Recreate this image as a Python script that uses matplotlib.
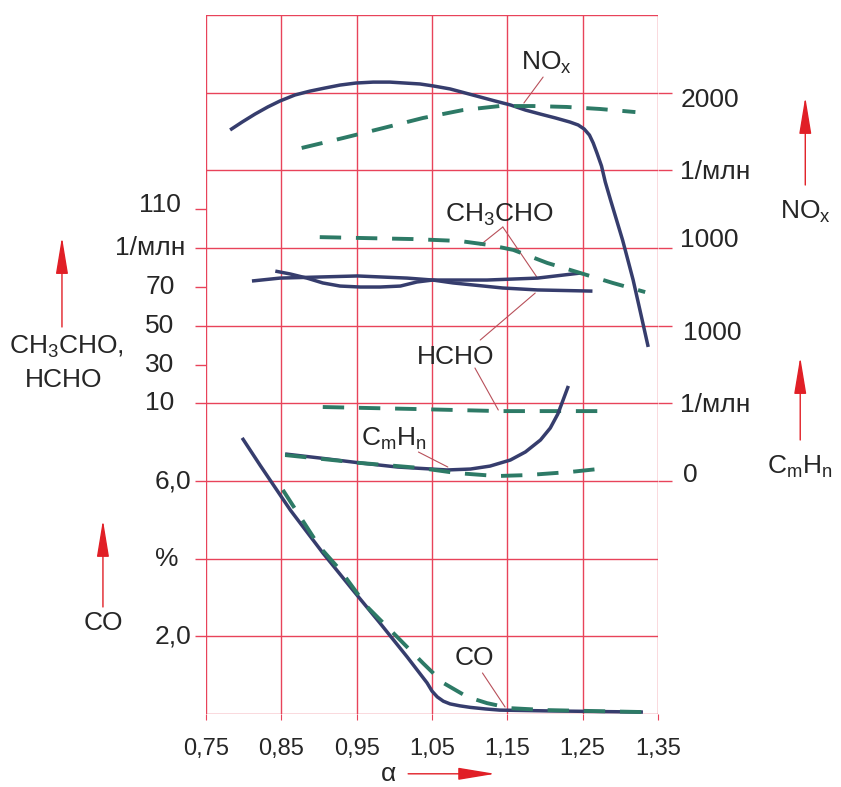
import matplotlib
matplotlib.use('Agg')
import matplotlib.pyplot as plt

plt.rcParams['font.family'] = ['Liberation Sans', 'DejaVu Sans']
plt.rcParams['mathtext.fontset'] = 'custom'
plt.rcParams['mathtext.rm'] = 'Liberation Sans'
plt.rcParams['mathtext.it'] = 'Liberation Sans:italic'
plt.rcParams['mathtext.default'] = 'regular'

GRID = '#e8435a'
SOLID = '#363d6d'
DASH = '#2d7a66'
ARROW = '#e11f26'
LEADER = '#b8505a'
TXT = '#262626'

# коэффициент избытка воздуха
alpha_ticks = [0.75, 0.85, 0.95, 1.05, 1.15, 1.25, 1.35]
alpha_labels = ['0,75', '0,85', '0,95', '1,05', '1,15', '1,25', '1,35']

# NOx, 1/млн
nox_a = [0.782, 0.798, 0.815, 0.832, 0.848, 0.868, 0.888, 0.908, 0.928, 0.949,
         0.972, 0.994, 1.014, 1.034, 1.052, 1.074, 1.094, 1.114, 1.134, 1.154,
         1.174, 1.194, 1.214, 1.233, 1.244, 1.252, 1.259, 1.264, 1.269, 1.275,
         1.280, 1.287, 1.295, 1.303, 1.310, 1.317, 1.326, 1.337]
nox_solid = [1760, 1811, 1862, 1908, 1946, 1985, 2010, 2030, 2049, 2062,
             2068, 2068, 2062, 2056, 2043, 2024, 1998, 1972, 1946, 1921,
             1888, 1862, 1837, 1811, 1792, 1766, 1727, 1676, 1611, 1528,
             1425, 1309, 1180, 1051, 923, 794, 601, 363]
nox_da = [0.877, 0.932, 0.985, 1.038, 1.091, 1.140, 1.184, 1.229, 1.273, 1.320]
nox_dash = [1644, 1708, 1772, 1837, 1888, 1914, 1914, 1908, 1895, 1875]

# CH3CHO, HCHO, 1/млн
ch3cho_a = [0.842, 0.862, 0.884, 0.905, 0.928, 0.955, 0.981, 1.008, 1.030, 1.051,
            1.123, 1.190, 1.247]
ch3cho_solid = [78.1, 76.6, 74.5, 72.0, 70.4, 69.9, 69.9, 70.4, 72.5, 73.5,
                73.5, 74.5, 77.1]
ch3cho_da = [0.901, 1.025, 1.087, 1.127, 1.158, 1.203, 1.247, 1.290, 1.333]
ch3cho_dash = [95.6, 94.6, 93.6, 91.5, 89.0, 82.3, 77.1, 72.0, 67.3]

hcho_a = [0.811, 0.848, 0.951, 1.017, 1.051, 1.078, 1.144, 1.190, 1.263]
hcho_solid = [73.0, 74.5, 75.6, 74.5, 73.5, 72.0, 69.4, 68.4, 67.8]
hcho_da = [0.905, 1.025, 1.140, 1.284]
hcho_dash = [8.1, 7.1, 6.0, 6.0]

# CmHn, 1/млн
cmhn_a = [0.855, 0.901, 0.955, 1.004, 1.070, 1.101, 1.127, 1.154, 1.174, 1.194,
          1.207, 1.217, 1.224, 1.231]
cmhn_solid = [174, 148, 116, 90, 71, 77, 96, 135, 187, 264, 341, 431, 521, 612]
cmhn_da = [0.855, 0.955, 1.034, 1.083, 1.136, 1.176, 1.233, 1.284]
cmhn_dash = [167, 116, 84, 51, 32, 38, 58, 84]

# CO, %
co_a = [0.798, 0.822, 0.862, 0.905, 0.945, 0.981, 1.017, 1.0435, 1.050, 1.057,
        1.065, 1.074, 1.087, 1.101, 1.121, 1.140, 1.203, 1.330]
co_solid = [7.11, 6.40, 5.25, 4.15, 3.19, 2.34, 1.47, 0.80, 0.59, 0.44,
            0.33, 0.26, 0.21, 0.17, 0.13, 0.10, 0.08, 0.05]
co_da = [0.852, 0.901, 0.928, 0.964, 1.004, 1.038, 1.065, 1.097, 1.123, 1.154,
         1.203, 1.330]
co_dash = [5.77, 4.30, 3.71, 2.76, 1.98, 1.31, 0.80, 0.44, 0.28, 0.15, 0.10, 0.05]

# шкалы: пределы каждой величины на 9 клетках сетки
CO_LIM = (0, 18)
ALD_LIM = (-150, 210)
NOX_LIM = (-2000, 2500)
CMHN_LIM = (-1500, 3000)

fig = plt.figure(figsize=(8.41, 7.87), dpi=100)
rect = [206 / 841, 73 / 787, 452 / 841, 699 / 787]
ax = fig.add_axes(rect)
ax.set_xlim(0.75, 1.35)
ax.set_ylim(0, 9)
for s in ax.spines.values():
    s.set_visible(False)
for a in alpha_ticks:
    ax.axvline(a, color=GRID, lw=1.0, zorder=1)
for g in range(10):
    ax.axhline(g, color=GRID, lw=1.0, zorder=1)

ax.set_xticks(alpha_ticks)
ax.set_xticklabels(alpha_labels, fontsize=17, color=TXT)
ax.tick_params(axis='x', length=4, color=GRID, pad=13)
ax.set_yticks([1, 2, 3, 4, 4.5, 5, 5.5, 6, 6.5])
ax.set_yticklabels([])
ax.tick_params(axis='y', length=8, color=GRID, width=1.0)

axr = ax.twinx()
axr.set_ylim(0, 9)
for s in axr.spines.values():
    s.set_visible(False)
axr.set_yticks([3, 4, 5, 6, 7, 8])
axr.set_yticklabels([])
axr.tick_params(axis='y', length=10, color=GRID, width=1.0)


def overlay(name, lim):
    o = fig.add_axes(rect, label=name)
    o.set_xlim(0.75, 1.35)
    o.set_ylim(*lim)
    o.set_axis_off()
    o.patch.set_visible(False)
    return o


ax_co = overlay('co', CO_LIM)
ax_ald = overlay('ald', ALD_LIM)
ax_nox = overlay('nox', NOX_LIM)
ax_ch = overlay('cmhn', CMHN_LIM)

sol = dict(color=SOLID, lw=2.5, solid_joinstyle='round', solid_capstyle='butt')
das = dict(color=DASH, lw=2.8, ls=(0, (5.5, 3.8)), dash_capstyle='butt')

ax_nox.plot(nox_a, nox_solid, **sol)
ax_nox.plot(nox_da, nox_dash, **das)
ax_ald.plot(ch3cho_a, ch3cho_solid, **sol)
ax_ald.plot(hcho_a, hcho_solid, **sol)
ax_ald.plot(ch3cho_da, ch3cho_dash, **das)
ax_ald.plot(hcho_da, hcho_dash, **das)
ax_ch.plot(cmhn_a, cmhn_solid, **sol)
ax_ch.plot(cmhn_da, cmhn_dash, **das)
ax_co.plot(co_a, co_solid, **sol)
ax_co.plot(co_da, co_dash, **das)

# подписи кривых с выносками (координаты в клетках сетки)
top = ax_co
lead = dict(arrowstyle='-', color=LEADER, lw=0.8, shrinkA=0, shrinkB=0)


def leader(p0, p1):
    top.annotate('', xy=(p1[0], p1[1] * 2), xytext=(p0[0], p0[1] * 2),
                 arrowprops=lead, annotation_clip=False)


def label(x, g, s, **kw):
    top.text(x, g * 2, s, fontsize=19, color=TXT, ha='center', va='center',
             clip_on=False, **kw)


label(1.2015, 8.382, 'NO$_x$')
leader((1.1975, 8.201), (1.172, 7.867))
label(1.140, 6.425, 'CH$_3$CHO')
leader((1.144, 6.270), (1.114, 6.038))
leader((1.144, 6.270), (1.190, 5.614))
label(1.081, 4.596, 'HCHO')
leader((1.114, 4.815), (1.187, 5.420))
leader((1.107, 4.455), (1.138, 3.914))
label(1.000, 3.541, 'C$_m$H$_n$')
leader((1.032, 3.373), (1.071, 3.180))
label(1.106, 0.721, 'CO')
leader((1.117, 0.528), (1.147, 0.090))

# левые шкалы
left_labels = [('110', 0.689, 6.55), ('1/млн', 0.676, 6.0), ('70', 0.689, 5.5),
               ('50', 0.689, 5.0), ('30', 0.689, 4.5), ('10', 0.689, 4.0),
               ('6,0', 0.706, 3.0), ('%', 0.698, 2.0), ('2,0', 0.706, 1.0)]
for s, x, g in left_labels:
    label(x, g, s)

# правые шкалы
right_labels = [('2000', 1.3795, 7.905), ('1/млн', 1.3795, 6.978),
                ('1000', 1.3795, 6.103), ('1000', 1.3835, 4.905),
                ('1/млн', 1.3795, 3.978), ('0', 1.3835, 3.077)]
for s, x, g in right_labels:
    top.text(x, g * 2, s, fontsize=19, color=TXT, ha='left', va='center',
             clip_on=False)

arr = dict(arrowstyle='-|>,head_length=2.3,head_width=0.38', color=ARROW,
           lw=1.0, mutation_scale=10, shrinkA=0, shrinkB=0)


def arrow(x0, g0, x1, g1):
    top.annotate('', xy=(x1, g1 * 2), xytext=(x0, g0 * 2), arrowprops=arr,
                 annotation_clip=False)


arrow(0.5588, 4.983, 0.5588, 6.141)
label(0.5654, 4.725, 'CH$_3$CHO,')
label(0.5614, 4.300, 'HCHO')
arrow(0.6132, 1.378, 0.6132, 2.498)
label(0.6132, 1.172, 'CO')
arrow(1.5455, 6.811, 1.5455, 7.944)
label(1.5455, 6.463, 'NO$_x$')
arrow(1.5388, 3.528, 1.5388, 4.596)
label(1.5388, 3.180, 'C$_m$H$_n$')

label(0.9917, -0.77, 'α')
arrow(1.0183, -0.77, 1.1338, -0.77)

fig.savefig('out.png', dpi=100)
